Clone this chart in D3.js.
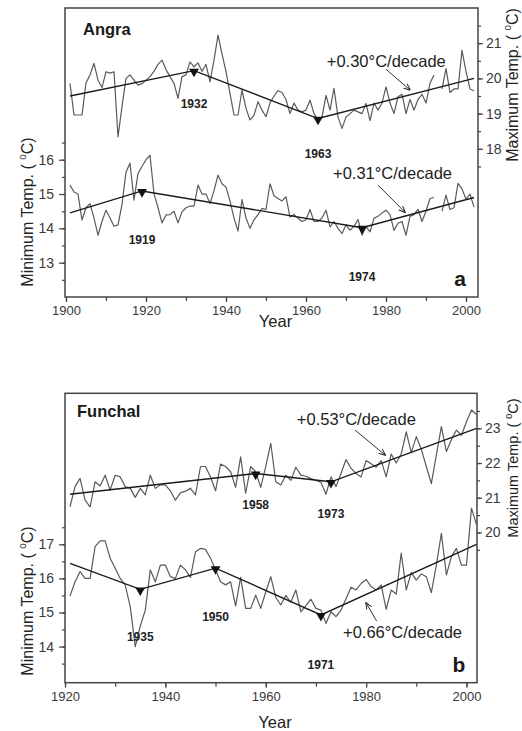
<!DOCTYPE html>
<html>
<head>
<meta charset="utf-8">
<script src="https://cdn.jsdelivr.net/npm/d3@7/dist/d3.min.js"></script>
<style>
  body { margin: 0; background: #fff; }
  svg { display: block; font-family: "Liberation Sans", Arial, sans-serif; }
</style>
</head>
<body>
<div id="chart"></div>
<script>

// ---- Angra (panel a), annual means 1901-2002, null = missing year
var angraStart = 1901;
var angraMax = [
  19.86, 18.96, 18.96, 18.96, 19.87, 20.1, 20.43, 19.95, 19.74, 20.19,
  20.15, 20.19, 18.34, 19.2, 20.0, 20.1, 19.95, 19.81, 19.85, 19.95,
  20.05, 20.2, 20.4, 20.52, 20.25, 20.05, 19.86, 19.43, 20.05, 20.1,
  20.47, 20.33, 20.44, 20.2, 20.4, 19.9, 20.52, 21.23, 20.7, 20.19,
  19.57, 18.96, 18.96, 19.67, 19.15, 18.82, 18.95, 19.34, 19.1, 18.91,
  19.3, 19.5, 19.65, 19.6, 19.4, 19.0, 19.3, 19.1, 19.05, 19.1,
  19.38, 19.0, 18.82, 18.9, 19.52, 19.1, 19.72, 18.9, 18.58, 18.9,
  19.0, 19.1, 19.05, 19.0, 19.29, 18.8, 19.3, 19.1, 19.3, 19.76,
  19.3, 19.0, 19.48, 19.55, 19.0, 19.4, 19.1, 19.4, 19.55, 19.3,
  19.86, 20.1, null, 19.7, 20.28, 19.6, 19.7, 19.7, 20.8, 20.2,
  19.7, 19.65
];
var angraMin = [
  15.26, 15.06, 15.0, 14.24, 14.6, 14.72, 14.3, 13.8, 14.2, 14.53,
  14.3, 14.06, 14.1, 14.7, 15.64, 15.9, 14.82, 15.6, 15.8, 16.0,
  16.13, 15.01, 14.6, 14.16, 14.39, 14.4, 14.5, 14.16, 14.48, 14.6,
  14.65, 14.65, 15.26, 15.0, 15.0, 14.72, 15.1, 15.55, 15.3, 15.2,
  14.8, 14.3, 13.92, 14.84, 14.3, 14.0, 14.25, 14.4, 14.58, 14.55,
  15.3, 14.95, 14.87, 14.8, 14.92, 14.33, 14.4, 14.3, 14.2, 14.25,
  14.55, 14.2, 14.2, 14.3, 14.53, 14.04, 14.2, 14.0, 13.85, 14.1,
  13.95, 14.05, 14.26, 13.8, 14.05, 13.9, 14.29, 14.35, 14.45, 14.53,
  14.4, 13.94, 14.15, 14.2, 13.8, 14.35, 14.4, 14.55, 14.2, 14.5,
  14.87, 14.9, null, 14.5, 14.97, 14.55, 14.6, 15.31, 15.15, 14.85,
  15.0, 14.62
];
// piecewise trends [year, value]; inner points are the break years
var angraMaxTrend = [[1901, 19.5], [1932, 20.22], [1963, 18.86], [2002, 20.0]];
var angraMinTrend = [[1901, 14.45], [1919, 15.09], [1974, 14.02], [2002, 14.9]];

// ---- Funchal (panel b), annual means 1921-2002
var funchalStart = 1921;
var funchalMax = [
  20.74, 21.32, 21.56, 20.93, 20.74, 21.46, 21.34, 21.65, 21.22, 21.65,
  21.6, 21.32, 21.27, 21.01, 21.27, 21.08, 21.65, 21.27, 21.37, 21.37,
  21.2, 20.93, 21.14, 21.19, 21.27, 21.08, 21.9, 21.9, 21.6, 21.2,
  21.97, 21.9, 21.75, 21.3, 22.18, 21.13, 21.9, 21.75, 21.3, 21.9,
  22.57, 21.46, 21.37, 21.65, 21.5, 21.88, 21.65, 21.62, 21.55, 21.5,
  21.45, 21.1, 21.6, 21.32, 21.7, 22.1, 21.85, 21.7, 21.6, 22.07,
  21.98, 21.88, 22.07, 21.6, 22.26, 22.0, 22.26, 22.9, 22.3, 22.76,
  22.4, 21.9, 21.41, 22.23, 23.05, 22.33, 22.67, 22.95, 22.8, 23.19,
  23.53, 23.4
];
var funchalMin = [
  15.48, 15.9, 16.2, 16.0, 16.0, 16.93, 17.1, 17.1, 16.59, 16.3,
  16.0, 15.8, 15.17, 14.0, 14.6, 15.07, 16.25, 15.9, 16.39, 16.39,
  16.05, 16.0, 16.39, 16.25, 16.03, 16.78, 16.88, 16.85, 16.59, 16.25,
  15.9, 15.81, 15.9, 15.19, 16.03, 15.12, 15.12, 15.51, 15.12, 15.6,
  16.05, 15.44, 15.22, 15.5, 15.3, 15.66, 15.02, 15.2, 15.39, 15.12,
  15.07, 14.68, 15.02, 14.88, 15.07, 15.4, 15.74, 15.66, 15.85, 15.97,
  15.76, 15.66, 15.81, 15.09, 15.66, 15.54, 16.74, 15.66, 16.17, 15.95,
  16.13, 16.05, 15.58, 16.39, 17.32, 16.1, 16.64, 16.88, 16.39, 16.39,
  18.06, 17.57
];
var funchalMaxTrend = [[1921, 21.1], [1958, 21.7], [1973, 21.46], [2002, 23.0]];
var funchalMinTrend = [[1921, 16.44], [1935, 15.68], [1950, 16.3], [1971, 14.93], [2002, 17.0]];

// tick values
var angraYearTicks = [1900, 1920, 1940, 1960, 1980, 2000];
var funchalYearTicks = [1920, 1940, 1960, 1980, 2000];
var angraMinTicks = [13, 14, 15, 16];
var angraMaxTicks = [18, 19, 20, 21];
var funchalMinTicks = [14, 15, 16, 17];
var funchalMaxTicks = [20, 21, 22, 23];

var rateMaxA = "+0.30\u00B0C/decade", rateMinA = "+0.31\u00B0C/decade";
var rateMaxB = "+0.53\u00B0C/decade", rateMinB = "+0.66\u00B0C/decade";

var svg = d3.select("#chart").append("svg")
  .attr("width", 522)
  .attr("height", 731);

svg.append("defs").append("marker")
  .attr("id", "arrow")
  .attr("viewBox", "0 0 10 10")
  .attr("refX", 9).attr("refY", 5)
  .attr("markerWidth", 7).attr("markerHeight", 7)
  .attr("markerUnits", "userSpaceOnUse")
  .attr("orient", "auto")
  .append("path")
  .attr("d", "M0,1 L10,5 L0,9")
  .attr("fill", "none")
  .attr("stroke", "#222")
  .attr("stroke-width", 1.4);

function toPairs(start, vals) {
  return vals.map(function(v, i) { return [start + i, v]; });
}

function halfSteps(ticks) {
  var out = [ticks[0] - 0.5];
  ticks.forEach(function(t) { out.push(t, t + 0.5); });
  return out;
}

function rotTitle(g, x, y, size) {
  // rotated axis title with a raised small zero before C
  return function(label) {
    var t = g.append("text")
      .attr("transform", "translate(" + x + "," + y + ") rotate(-90)")
      .attr("text-anchor", "middle")
      .attr("font-size", size)
      .attr("fill", "#222");
    t.append("tspan").text(label + " ( ");
    t.append("tspan").attr("font-size", size * 0.62).attr("dy", -size * 0.42).text("0");
    t.append("tspan").attr("dy", size * 0.42).text("C)");
  };
}

function drawPanel(p) {
  var g = svg.append("g");
  var x = d3.scaleLinear().domain(p.xDomain).range([p.left, p.right]);
  var yMin = d3.scaleLinear().domain(p.minDomain).range([p.bottom, p.top]);
  var yMax = d3.scaleLinear().domain(p.maxDomain).range([p.bottom, p.top]);

  // axes
  var minorYears = d3.range(p.yearTicks[0], p.xDomain[1], 10);
  g.append("g").attr("transform", "translate(0," + p.bottom + ")")
    .call(d3.axisBottom(x).tickValues(minorYears).tickSize(4).tickFormat(""));
  g.append("g").attr("transform", "translate(0," + p.bottom + ")")
    .call(d3.axisBottom(x).tickValues(p.yearTicks).tickSize(5).tickPadding(4).tickFormat(d3.format("d")))
    .attr("font-size", 13);

  g.append("g").attr("transform", "translate(" + p.left + ",0)")
    .call(d3.axisLeft(yMin).tickValues(halfSteps(p.minTicks)).tickSize(3).tickFormat(""));
  g.append("g").attr("transform", "translate(" + p.left + ",0)")
    .call(d3.axisLeft(yMin).tickValues(p.minTicks).tickSize(6).tickPadding(5).tickFormat(d3.format("d")))
    .attr("font-size", 14);

  g.append("g").attr("transform", "translate(" + p.right + ",0)")
    .call(d3.axisRight(yMax).tickValues(halfSteps(p.maxTicks)).tickSize(3).tickFormat(""));
  g.append("g").attr("transform", "translate(" + p.right + ",0)")
    .call(d3.axisRight(yMax).tickValues(p.maxTicks).tickSize(5).tickPadding(3).tickFormat(d3.format("d")))
    .attr("font-size", 14);

  g.selectAll(".domain").remove();
  g.selectAll(".tick line").attr("stroke", "#444").attr("stroke-width", 1.2);
  g.selectAll(".tick text").attr("fill", "#3a3a3a").attr("font-family", "Liberation Sans, Arial, sans-serif");

  g.append("rect")
    .attr("x", p.left).attr("y", p.top)
    .attr("width", p.right - p.left).attr("height", p.bottom - p.top)
    .attr("fill", "none").attr("stroke", "#444").attr("stroke-width", 1.5);

  // data series
  var series = [
    { data: toPairs(p.start, p.maxVals), y: yMax, trend: p.maxTrend },
    { data: toPairs(p.start, p.minVals), y: yMin, trend: p.minTrend }
  ];
  series.forEach(function(s) {
    var line = d3.line()
      .defined(function(d) { return d[1] != null; })
      .x(function(d) { return x(d[0]); })
      .y(function(d) { return s.y(d[1]); });
    g.append("path").attr("d", line(s.data))
      .attr("fill", "none").attr("stroke", "#5a5a5a").attr("stroke-width", 1.2)
      .attr("stroke-linejoin", "round");
    g.append("path").attr("d", line(s.trend))
      .attr("fill", "none").attr("stroke", "#1a1a1a").attr("stroke-width", 1.4);
    var breaks = s.trend.slice(1, -1);
    g.selectAll(null).data(breaks).enter().append("path")
      .attr("d", d3.symbol().type(d3.symbolTriangle).size(42))
      .attr("transform", function(d) {
        return "translate(" + x(d[0]) + "," + (s.y(d[1]) + 1) + ") rotate(180)";
      })
      .attr("fill", "#111");
    // year labels under each break
    g.selectAll(null).data(breaks).enter().append("text")
      .attr("x", function(d) { return x(d[0]); })
      .attr("y", function(d, i) { return s.y(d[1]) + p.labelDrop(s, i); })
      .attr("text-anchor", "middle")
      .attr("font-size", 12).attr("font-weight", "bold").attr("fill", "#222")
      .text(function(d) { return d[0]; });
  });

  // rate annotations with arrows
  p.rates.forEach(function(r) {
    var yy = r.onMax ? yMax : yMin;
    g.append("text").attr("x", x(r.at[0])).attr("y", yy(r.at[1]))
      .attr("font-size", 16.5).attr("fill", "#222").text(r.text);
    g.append("line")
      .attr("x1", x(r.from[0])).attr("y1", yy(r.from[1]))
      .attr("x2", x(r.to[0])).attr("y2", yy(r.to[1]))
      .attr("stroke", "#333").attr("stroke-width", 1)
      .attr("marker-end", "url(#arrow)");
  });

  g.append("text").attr("x", p.left + p.nameDx).attr("y", p.top + p.nameDy)
    .attr("font-size", 16.5).attr("font-weight", "bold").attr("fill", "#1a1a1a").text(p.name);
  g.append("text").attr("x", p.right - 18).attr("y", p.bottom - 11)
    .attr("text-anchor", "middle")
    .attr("font-size", 21).attr("font-weight", "bold").attr("fill", "#1a1a1a").text(p.letter);

  g.append("text").attr("x", (p.left + p.right) / 2 + 4).attr("y", p.yearTitleY)
    .attr("text-anchor", "middle").attr("font-size", 16.5).attr("fill", "#222").text("Year");

  rotTitle(g, 33, p.minTitleY, 16)("Minimum Temp.");
  rotTitle(g, 518, p.maxTitleY, p.maxTitleSize)("Maximum Temp.");
}

drawPanel({
  name: "Angra", letter: "a", nameDx: 18, nameDy: 27,
  left: 65, right: 478, top: 8, bottom: 297,
  xDomain: [1899.75, 2003], minDomain: [12.0, 20.42], maxDomain: [13.79, 22.0],
  yearTicks: angraYearTicks, minTicks: angraMinTicks, maxTicks: angraMaxTicks,
  start: angraStart, maxVals: angraMax, minVals: angraMin,
  maxTrend: angraMaxTrend, minTrend: angraMinTrend,
  labelDrop: function(s, i) { return s.trend === angraMaxTrend ? [37, 39][i] : [53, 53][i]; },
  rates: [
    { text: rateMaxA, onMax: true, at: [1965.2, 20.31], from: [1980, 20.26], to: [1986, 19.67] },
    { text: rateMinA, onMax: false, at: [1966.75, 15.43], from: [1978, 15.26], to: [1984.75, 14.47] }
  ],
  yearTitleY: 327, minTitleY: 212, maxTitleY: 85, maxTitleSize: 16
});

drawPanel({
  name: "Funchal", letter: "b", nameDx: 12, nameDy: 24,
  left: 65, right: 477, top: 393.3, bottom: 682.7,
  xDomain: [1920, 2002.1], minDomain: [12.94, 21.43], maxDomain: [15.67, 24.01],
  yearTicks: funchalYearTicks, minTicks: funchalMinTicks, maxTicks: funchalMaxTicks,
  start: funchalStart, maxVals: funchalMax, minVals: funchalMin,
  maxTrend: funchalMaxTrend, minTrend: funchalMinTrend,
  labelDrop: function(s, i) { return s.trend === funchalMaxTrend ? [36, 36][i] : [52, 53, 54][i]; },
  rates: [
    { text: rateMaxB, onMax: true, at: [1966.2, 23.1], from: [1977.8, 22.95], to: [1983.8, 22.23] },
    { text: rateMinB, onMax: false, at: [1975.4, 14.24], from: [1982.1, 14.75], to: [1980, 15.28] }
  ],
  yearTitleY: 727.5, minTitleY: 601, maxTitleY: 468, maxTitleSize: 14.5
});

</script>
</body>
</html>
